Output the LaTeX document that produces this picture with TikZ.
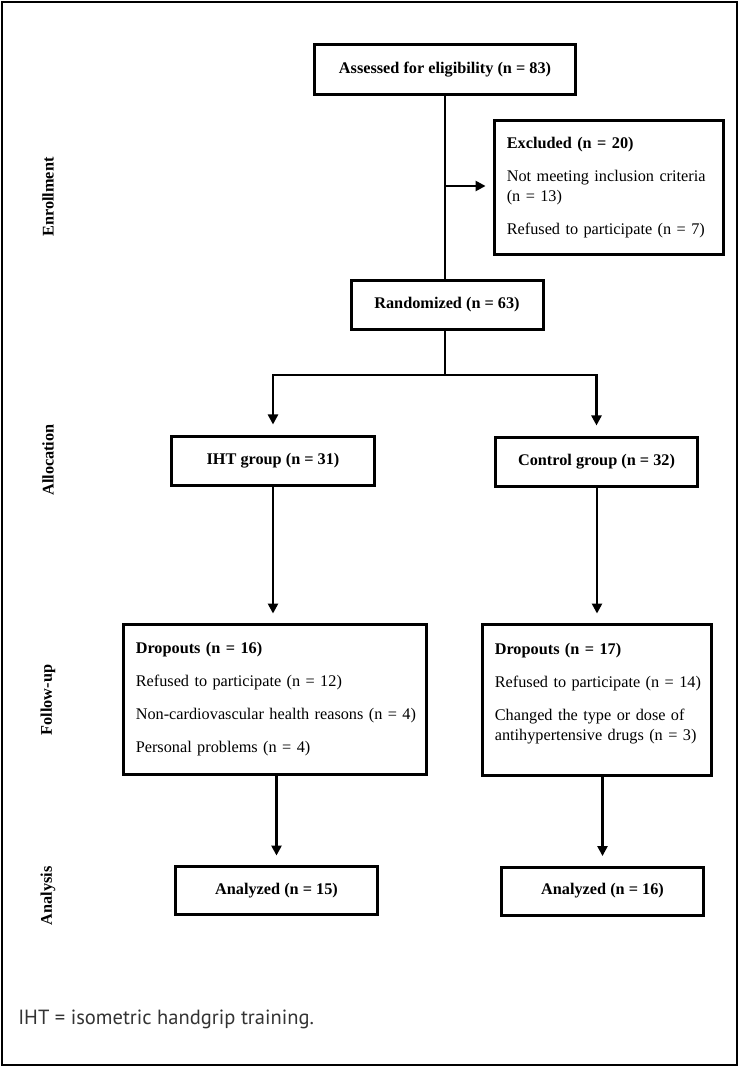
\documentclass[tikz,border=0pt]{standalone}
\usepackage{fontspec}
\setmainfont{Liberation Serif}
\newfontfamily\notefont{PT Sans}
\usetikzlibrary{arrows.meta,calc}
\begin{document}
\begin{tikzpicture}[x=0.75pt,y=-0.75pt,
  box/.style={draw, line width=2.25pt, rectangle, inner sep=0pt,
    font=\fontsize{12.2}{15}\selectfont},
  listbox/.style={box, align=left, inner xsep=9.2pt},
  phase/.style={rotate=90, font=\fontsize{12.2}{15}\selectfont\bfseries, inner sep=0pt},
  conn/.style={line width=1.8pt},
  arr/.style={conn, -{Triangle[length=7.5pt,width=7.5pt]}}]
\useasboundingbox (0,0) rectangle (740,1068);
\draw[line width=0.9pt] (2,2) rectangle (737,1065);

% phase labels
\node[phase] (enr) at (48,197) {Enrollment};
\node[phase] (alloc) at (48,460) {Allocation};
\node[phase] (fup) at (48,700) {Follow-up};
\node[phase] (ana) at (48,896) {Analysis};

% boxes
\node[box, minimum width=195.75pt, minimum height=37.5pt] (assess) at (445,69.5)
  {\bfseries Assessed for eligibility (n = 83)};
\node[listbox, text width=153.3pt, minimum height=100.5pt] (excl) at (609,187.5)
  {\mbox{\bfseries Excluded (n = 20)}\\[10pt]
   \mbox{Not meeting inclusion criteria}\\
   \mbox{(n = 13)}\\[9.5pt]
   \mbox{Refused to participate (n = 7)}};
\node[box, minimum width=144pt, minimum height=36.75pt] (rand) at (447,305)
  {\bfseries Randomized (n = 63)};
\node[box, minimum width=152.25pt, minimum height=36.75pt] (iht) at (273,461)
  {\bfseries IHT group (n = 31)};
\node[box, minimum width=151.5pt, minimum height=36.75pt] (ctrl) at (596.5,462)
  {\bfseries Control group (n = 32)};
\node[listbox, text width=208.8pt, minimum height=112.5pt] (dropl) at (275,699.5)
  {\mbox{\bfseries Dropouts (n = 16)}\\[9.75pt]
   \mbox{Refused to participate (n = 12)}\\[9.75pt]
   \mbox{Non-cardiovascular health reasons (n = 4)}\\[9.75pt]
   \mbox{Personal problems (n = 4)}};
\node[listbox, text width=153.3pt, minimum height=113.25pt] (dropr) at (597,700)
  {\mbox{\bfseries Dropouts (n = 17)}\\[9.75pt]
   \mbox{Refused to participate (n = 14)}\\[9.75pt]
   \mbox{Changed the type or dose of}\\
   \mbox{antihypertensive drugs (n = 3)}\\[-6pt]
   \leavevmode\vphantom{(}};
\node[box, minimum width=151.5pt, minimum height=36pt] (anal) at (276.5,890.5)
  {\bfseries Analyzed (n = 15)};
\node[box, minimum width=151.5pt, minimum height=36pt] (anar) at (602.5,891)
  {\bfseries Analyzed (n = 16)};

% connectors
\coordinate (split) at (445,375);
\coordinate (exj) at (445,186);
\draw[conn] (assess.south) -- (rand.north -| assess.south);
\draw[arr, shorten >=5.6pt] (exj) -- (exj -| excl.west);
\draw[conn] (rand.south -| split) -- (split);
\draw[arr, shorten >=7.9pt] (split) -| (iht.north);
\draw[arr, shorten >=7.9pt] (split) -| (ctrl.north);
\draw[arr, shorten >=7.1pt] (iht.south) -- (iht.south |- dropl.north);
\draw[arr, shorten >=7.1pt] (ctrl.south -| dropr.north) -- (dropr.north);
\draw[arr, shorten >=7.1pt] (anal.north |- dropl.south) -- (anal.north);
\draw[arr, shorten >=7.1pt] (anar.north |- dropr.south) -- (anar.north);

% footnote
\node[anchor=base west, inner sep=0pt, font=\notefont\fontsize{15.4}{18}\selectfont, text=black!80] (note) at (18,1024)
  {IHT = isometric handgrip training.};
\end{tikzpicture}
\end{document}
